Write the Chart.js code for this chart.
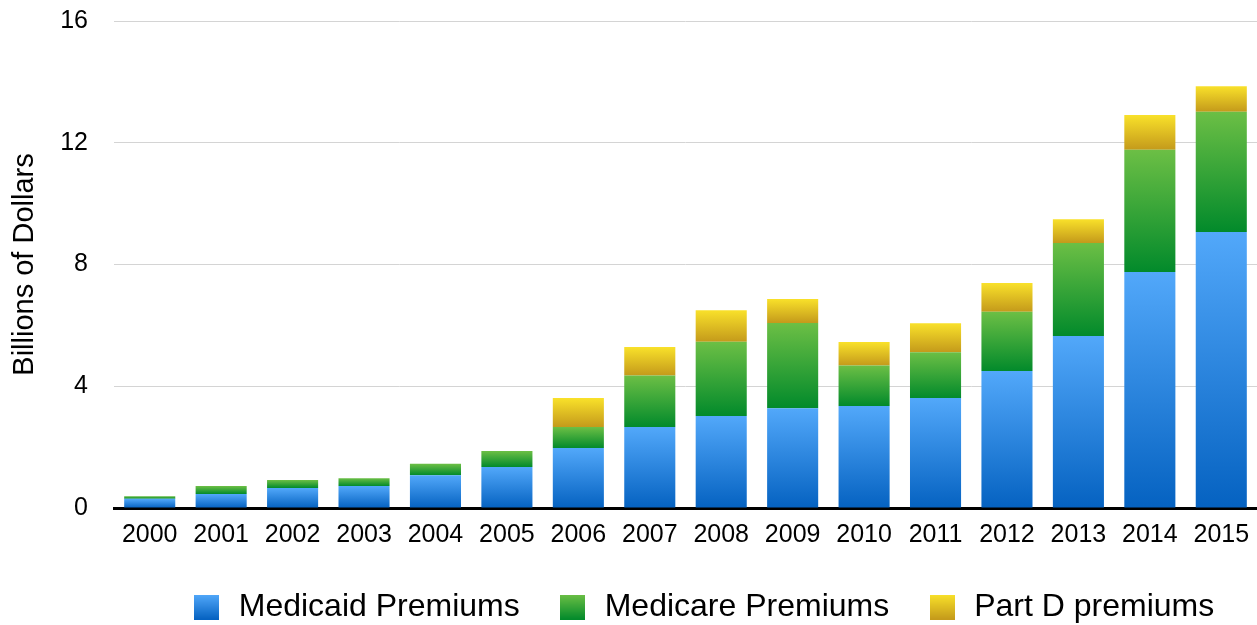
<!DOCTYPE html>
<html>
<head>
<meta charset="utf-8">
<script src="https://cdn.jsdelivr.net/npm/chart.js@4/dist/chart.umd.min.js"></script>
<style>
  html, body { margin: 0; padding: 0; background: #fff; }
  #wrap { width: 1257px; height: 625px; }
</style>
</head>
<body>
<div id="wrap"><canvas id="premiums"></canvas></div>
<script>
const years = ["2000","2001","2002","2003","2004","2005","2006","2007","2008","2009","2010","2011","2012","2013","2014","2015"];
const medicaid = [0.30,0.46,0.66,0.72,1.08,1.35,1.97,2.66,3.02,3.28,3.35,3.61,4.50,5.65,7.75,9.07];
const medicare = [0.09,0.26,0.26,0.26,0.37,0.52,0.69,1.69,2.44,2.80,1.33,1.51,1.95,3.06,4.02,3.95];
const partD    = [0,0,0,0,0,0,0.95,0.94,1.04,0.79,0.77,0.95,0.94,0.78,1.14,0.84];
const yTicks = [0, 4, 8, 12, 16];

const seriesNames = ["Medicaid Premiums", "Medicare Premiums", "Part D premiums"];
const seriesData = [medicaid, medicare, partD];
// top / bottom colours of each gradient
const gradColors = [
  ["#52a8fa", "#0562c1"],
  ["#6cbf45", "#028a2b"],
  ["#f9e12a", "#c49a1b"],
];

// gradient per bar, from top of segment to its base
function barFill(dsIndex) {
  return function (ctx) {
    const chart = ctx.chart;
    if (!chart.chartArea || ctx.dataIndex === undefined) return gradColors[dsIndex][1];
    const y = chart.scales.y;
    let base = 0;
    for (let k = 0; k < dsIndex; k++) base += seriesData[k][ctx.dataIndex];
    const top = base + seriesData[dsIndex][ctx.dataIndex];
    const yTop = y.getPixelForValue(top);
    const yBot = y.getPixelForValue(base);
    if (!isFinite(yTop) || !isFinite(yBot) || yTop === yBot) return gradColors[dsIndex][1];
    const g = chart.ctx.createLinearGradient(0, yTop, 0, yBot);
    g.addColorStop(0, gradColors[dsIndex][0]);
    g.addColorStop(1, gradColors[dsIndex][1]);
    return g;
  };
}

// little gradient squares for the legend
function legendSwatch(dsIndex) {
  const c = document.createElement("canvas");
  c.width = 25; c.height = 25;
  const cx = c.getContext("2d");
  const g = cx.createLinearGradient(0, 0, 0, 25);
  g.addColorStop(0, gradColors[dsIndex][0]);
  g.addColorStop(1, gradColors[dsIndex][1]);
  cx.fillStyle = g;
  cx.fillRect(0, 0, 25, 25);
  return c;
}

// nudge the legend a bit right, like the original
const legendShift = {
  id: "legendShift",
  afterLayout(chart) {
    const lg = chart.legend;
    if (!lg) return;
    lg.left += 17;
    lg.right += 17;
  },
};

const datasets = seriesData.map((d, i) => ({
  label: seriesNames[i],
  data: d,
  backgroundColor: barFill(i),
  borderWidth: 0,
  pointStyle: legendSwatch(i),
  barPercentage: 0.715,
  categoryPercentage: 1.0,
}));

Chart.defaults.font.family = "'Liberation Sans', Arial, Helvetica, sans-serif";
Chart.defaults.color = "#000";

new Chart(document.getElementById("premiums").getContext("2d"), {
  type: "bar",
  data: { labels: years, datasets: datasets },
  plugins: [legendShift],
  options: {
    responsive: true,
    maintainAspectRatio: false,
    animation: false,
    layout: { padding: { top: 21, right: 0, left: 0, bottom: -8 } },
    plugins: {
      tooltip: { enabled: false },
      legend: {
        position: "bottom",
        fullSize: false,
        labels: {
          usePointStyle: true,
          padding: 37,
          font: { size: 32 },
          color: "#000",
        },
      },
    },
    scales: {
      x: {
        stacked: true,
        grid: { display: false },
        border: { display: true, color: "#000", width: 3 },
        ticks: { font: { size: 25 }, padding: 4, maxRotation: 0 },
        afterFit: (axis) => { axis.height = 46; },
      },
      y: {
        stacked: true,
        min: 0,
        max: 16,
        afterBuildTicks: (axis) => { axis.ticks = yTicks.map(v => ({ value: v })); },
        afterFit: (axis) => { axis.width = 114; },
        grid: { color: "#d4d4d4", lineWidth: 1, drawTicks: true, tickLength: 26, tickColor: "rgba(0,0,0,0)" },
        border: { display: false },
        ticks: { font: { size: 25 }, padding: 0 },
        title: { display: true, text: "Billions of Dollars", font: { size: 29 }, padding: { top: 8, bottom: 10 } },
      },
    },
  },
});
</script>
</body>
</html>
